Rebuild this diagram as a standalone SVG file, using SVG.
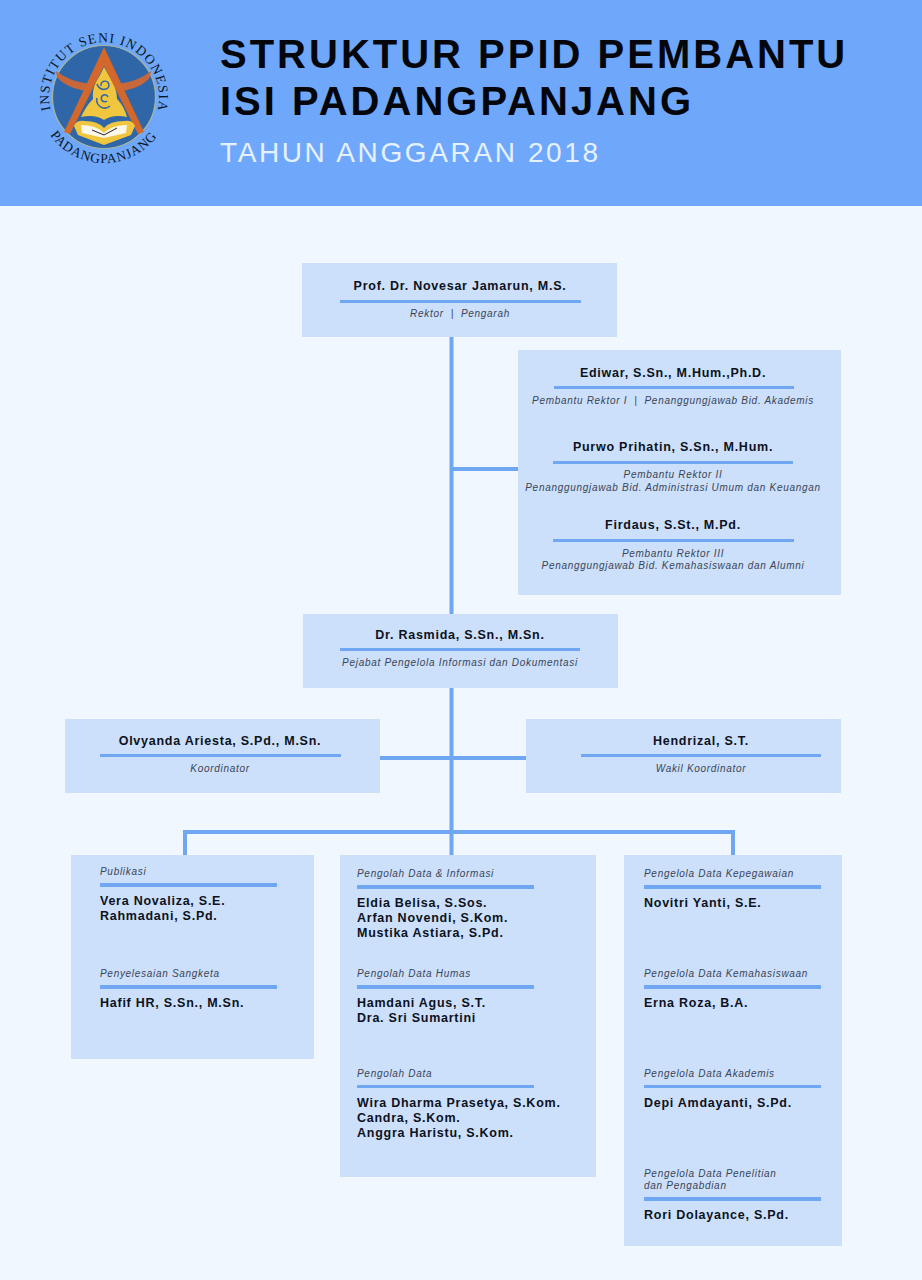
<svg xmlns="http://www.w3.org/2000/svg" width="922" height="1280" viewBox="0 0 922 1280">
<style>
text{font-family:"Liberation Sans",Arial,sans-serif}
.box{fill:#cce0fb}
.rule{fill:#6fa7f2}
.n{font-size:12.5px;font-weight:bold;fill:#0c1220;letter-spacing:.75px}
.r{font-size:10px;font-style:italic;fill:#3a4456;letter-spacing:.7px}
.m{text-anchor:middle}
.t{font-size:40px;font-weight:bold;fill:#04060c;letter-spacing:3px}
.s{font-size:28px;fill:#e6f1ff;letter-spacing:2.62px}
.lg{font-family:"Liberation Serif",serif;font-size:13.5px;fill:#0b1526}
</style>
<defs>
<path id="arcTop" d="M50.500 110 A55 55 0 1 1 157.500 110"/>
<path id="arcBot" d="M50 135 A66 66 0 0 0 158 135"/>
</defs>
<rect width="922" height="1280" fill="#f0f7ff"/>
<g id="header">
<rect width="922" height="206" fill="#6fa8fa"/>
<text class="t" x="220" y="68">STRUKTUR PPID PEMBANTU</text>
<text class="t" x="220" y="115">ISI PADANGPANJANG</text>
<text class="s" x="220" y="162">TAHUN ANGGARAN 2018</text>
</g>
<g id="logo">
<circle cx="104" cy="97" r="51.500" fill="#2f66a8" stroke="#a9b59b" stroke-width="1.200"/>
<path d="M56 71 Q70 82 91 84 L87 91 Q66 88 57 77Z M151 71 Q138 82 117 84 L121 91 Q142 88 150 77Z" fill="#c8683a"/>
<path d="M104 67 Q109 76 113 82 Q117 92 117 99 Q124 106 127 117 Q113 114 104 120 Q95 114 81 117 Q86 106 93 99 Q92 90 96 82 Q100 76 104 67Z" fill="#f0c63f"/>
<path d="M101 86 a4 4 0 1 1 5 3 a7 7 0 0 1 -9 -5 M108 97 a3.500 3.500 0 1 0 -1 4 M97 98 a8 8 0 0 0 13 8" fill="none" stroke="#2f66a8" stroke-width="1.500"/>
<path d="M104 47 L64 132 L70 134 L104 66 L138 134 L144 132Z" fill="#d2682c"/>
<path d="M74 126 Q76 120 85 121 Q98 121 104 128 Q110 121 124 121 Q133 120 135 126 L131 135 L104 145 L78 135Z" fill="#f0c63f"/>
<path d="M81 125 Q96 125 104 133 Q112 125 127 125 L126 133 L104 138 L82 133Z" fill="#fbf8ea"/>
<path d="M92 130 L104 135 L117 128" fill="none" stroke="#222" stroke-width="1"/>
<text class="lg"><textPath href="#arcTop" textLength="198" lengthAdjust="spacing">INSTITUT SENI INDONESIA</textPath></text>
<text class="lg"><textPath href="#arcBot" textLength="124" lengthAdjust="spacing">PADANGPANJANG</textPath></text>
</g>
<g id="connectors" fill="none" stroke="#6fa7f2" stroke-width="4">
<path d="M451.500 337V855"/>
<path d="M451.500 469H518"/>
<path d="M380 758H526"/>
<path d="M185 855V832H733V855"/>
</g>
<g id="rektor">
<rect class="box" x="302" y="263" width="315" height="74"/>
<text class="n m" x="460" y="290">Prof. Dr. Novesar Jamarun, M.S.</text>
<rect class="rule" x="340" y="300" width="241" height="3"/>
<text class="r m" x="460" y="317">Rektor &#160;|&#160; Pengarah</text>
</g>
<g id="pembantu-rektor">
<rect class="box" x="518" y="350" width="323" height="245"/>
<text class="n m" x="673" y="377">Ediwar, S.Sn., M.Hum.,Ph.D.</text>
<rect class="rule" x="554" y="386" width="240" height="3"/>
<text class="r m" x="673" y="404">Pembantu Rektor I &#160;|&#160; Penanggungjawab Bid. Akademis</text>
<text class="n m" x="673" y="451">Purwo Prihatin, S.Sn., M.Hum.</text>
<rect class="rule" x="553" y="461" width="240" height="3"/>
<text class="r m" x="673" y="478">Pembantu Rektor II</text>
<text class="r m" x="673" y="491">Penanggungjawab Bid. Administrasi Umum dan Keuangan</text>
<text class="n m" x="673" y="529">Firdaus, S.St., M.Pd.</text>
<rect class="rule" x="553" y="539" width="241" height="3"/>
<text class="r m" x="673" y="557">Pembantu Rektor III</text>
<text class="r m" x="673" y="569">Penanggungjawab Bid. Kemahasiswaan dan Alumni</text>
</g>
<g id="ppid">
<rect class="box" x="303" y="614" width="315" height="74"/>
<text class="n m" x="460" y="639">Dr. Rasmida, S.Sn., M.Sn.</text>
<rect class="rule" x="340" y="648" width="240" height="3"/>
<text class="r m" x="460" y="666">Pejabat Pengelola Informasi dan Dokumentasi</text>
</g>
<g id="koordinator">
<rect class="box" x="65" y="719" width="315" height="74"/>
<text class="n m" x="220" y="745">Olvyanda Ariesta, S.Pd., M.Sn.</text>
<rect class="rule" x="100" y="754" width="241" height="3"/>
<text class="r m" x="220" y="772">Koordinator</text>
</g>
<g id="wakil">
<rect class="box" x="526" y="719" width="315" height="74"/>
<text class="n m" x="701" y="745">Hendrizal, S.T.</text>
<rect class="rule" x="581" y="754" width="240" height="3"/>
<text class="r m" x="701" y="772">Wakil Koordinator</text>
</g>
<g id="kolom-1">
<rect class="box" x="71" y="855" width="243" height="204"/>
<text class="r" x="100" y="875">Publikasi</text>
<rect class="rule" x="100" y="883" width="177" height="4"/>
<text class="n" x="100" y="905">Vera Novaliza, S.E.</text>
<text class="n" x="100" y="920">Rahmadani, S.Pd.</text>
<text class="r" x="100" y="977">Penyelesaian Sangketa</text>
<rect class="rule" x="100" y="985" width="177" height="4"/>
<text class="n" x="100" y="1007">Hafif HR, S.Sn., M.Sn.</text>
</g>
<g id="kolom-2">
<rect class="box" x="340" y="855" width="256" height="322"/>
<text class="r" x="357" y="877">Pengolah Data &amp; Informasi</text>
<rect class="rule" x="357" y="885" width="177" height="4"/>
<text class="n" x="357" y="907">Eldia Belisa, S.Sos.</text>
<text class="n" x="357" y="922">Arfan Novendi, S.Kom.</text>
<text class="n" x="357" y="937">Mustika Astiara, S.Pd.</text>
<text class="r" x="357" y="977">Pengolah Data Humas</text>
<rect class="rule" x="357" y="985" width="177" height="4"/>
<text class="n" x="357" y="1007">Hamdani Agus, S.T.</text>
<text class="n" x="357" y="1022">Dra. Sri Sumartini</text>
<text class="r" x="357" y="1077">Pengolah Data</text>
<rect class="rule" x="357" y="1085" width="177" height="3"/>
<text class="n" x="357" y="1107">Wira Dharma Prasetya, S.Kom.</text>
<text class="n" x="357" y="1122">Candra, S.Kom.</text>
<text class="n" x="357" y="1137">Anggra Haristu, S.Kom.</text>
</g>
<g id="kolom-3">
<rect class="box" x="624" y="855" width="218" height="391"/>
<text class="r" x="644" y="877">Pengelola Data Kepegawaian</text>
<rect class="rule" x="644" y="885" width="177" height="4"/>
<text class="n" x="644" y="907">Novitri Yanti, S.E.</text>
<text class="r" x="644" y="977">Pengelola Data Kemahasiswaan</text>
<rect class="rule" x="644" y="985" width="177" height="4"/>
<text class="n" x="644" y="1007">Erna Roza, B.A.</text>
<text class="r" x="644" y="1077">Pengelola Data Akademis</text>
<rect class="rule" x="644" y="1085" width="177" height="3"/>
<text class="n" x="644" y="1107">Depi Amdayanti, S.Pd.</text>
<text class="r" x="644" y="1177">Pengelola Data Penelitian</text>
<text class="r" x="644" y="1189">dan Pengabdian</text>
<rect class="rule" x="644" y="1197" width="177" height="4"/>
<text class="n" x="644" y="1219">Rori Dolayance, S.Pd.</text>
</g>
</svg>
